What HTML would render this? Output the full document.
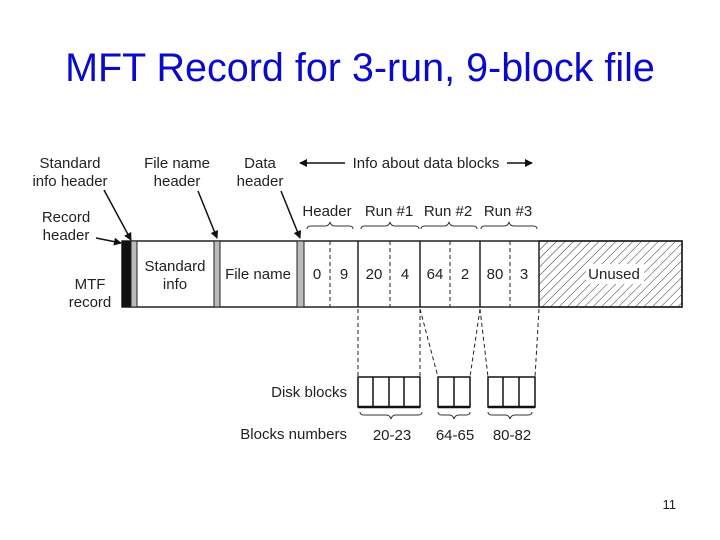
<!DOCTYPE html>
<html><head><meta charset="utf-8"><style>
html,body{margin:0;padding:0;background:#fff;}
svg{display:block;}
text{font-family:"Liberation Sans",Arial,sans-serif;fill:#222;}
</style></head><body>
<svg width="720" height="540" viewBox="0 0 720 540" xmlns="http://www.w3.org/2000/svg">
<defs>
<pattern id="h" width="6" height="6" patternUnits="userSpaceOnUse" patternTransform="rotate(45)">
<line x1="0" y1="0" x2="0" y2="6" stroke="#333" stroke-width="1"/></pattern>
<marker id="a" markerWidth="8" markerHeight="8" refX="7" refY="4" orient="auto" markerUnits="userSpaceOnUse"><path d="M0,0 L8,4 L0,8 z" fill="#111"/></marker>
</defs>
<text x="360" y="81" text-anchor="middle" font-size="39.5" style="fill:#0a0ac8">MFT Record for 3-run, 9-block file</text>

<g font-size="15">
<text x="70" y="168" text-anchor="middle">Standard</text>
<text x="70" y="186" text-anchor="middle">info header</text>
<text x="177" y="168" text-anchor="middle">File name</text>
<text x="177" y="186" text-anchor="middle">header</text>
<text x="260" y="168" text-anchor="middle">Data</text>
<text x="260" y="186" text-anchor="middle">header</text>
<text x="426" y="168" text-anchor="middle">Info about data blocks</text>
<text x="66" y="222" text-anchor="middle">Record</text>
<text x="66" y="240" text-anchor="middle">header</text>
<text x="90" y="289" text-anchor="middle">MTF</text>
<text x="90" y="307" text-anchor="middle">record</text>
<text x="327" y="216" text-anchor="middle">Header</text>
<text x="389" y="216" text-anchor="middle">Run #1</text>
<text x="448" y="216" text-anchor="middle">Run #2</text>
<text x="508" y="216" text-anchor="middle">Run #3</text>
<text x="347" y="397" text-anchor="end">Disk blocks</text>
<text x="347" y="439" text-anchor="end">Blocks numbers</text>
<text x="392" y="440" text-anchor="middle">20-23</text>
<text x="455" y="440" text-anchor="middle">64-65</text>
<text x="512" y="440" text-anchor="middle">80-82</text>
</g>
<g stroke="#111" stroke-width="1.5" fill="none" marker-end="url(#a)">
<line x1="345" y1="163" x2="300" y2="163"/>
<line x1="507" y1="163" x2="532" y2="163"/>
<line x1="104" y1="190" x2="131" y2="240"/>
<line x1="198" y1="191" x2="217" y2="238"/>
<line x1="281" y1="191" x2="300" y2="238"/>
<line x1="96" y1="238" x2="121" y2="243"/>
</g>
<g stroke="#333" stroke-width="1" fill="none">
<path d="M307,229 q0,-3 4,-3 h14 q4,0 5,-4 q1,4 5,4 h14 q4,0 4,3"/>
<path d="M361,229 q0,-3 4,-3 h20 q4,0 5,-4 q1,4 5,4 h20 q4,0 4,3"/>
<path d="M421,229 q0,-3 4,-3 h19 q4,0 5,-4 q1,4 5,4 h19 q4,0 4,3"/>
<path d="M481,229 q0,-3 4,-3 h19 q4,0 5,-4 q1,4 5,4 h19 q4,0 4,3"/>
<path d="M360,412 q0,3 4,3 h22 q4,0 5,4 q1,-4 5,-4 h22 q4,0 4,-3"/>
<path d="M438,412 q0,3 4,3 h7 q4,0 5,4 q1,-4 5,-4 h7 q4,0 4,-3"/>
<path d="M488,412 q0,3 4,3 h13 q4,0 5,4 q1,-4 5,-4 h13 q4,0 4,-3"/>
</g>
<rect x="122" y="241" width="560" height="66" fill="#fff" stroke="#222" stroke-width="1.5"/>
<rect x="539" y="241" width="143" height="66" fill="url(#h)" stroke="#222" stroke-width="1.5"/>
<rect x="586" y="264" width="58" height="20" fill="#fff"/>
<rect x="122" y="241" width="9" height="66" fill="#111"/>
<rect x="131" y="241" width="6" height="66" fill="#bbb" stroke="#222" stroke-width="1"/>
<rect x="214" y="241" width="6" height="66" fill="#bbb" stroke="#222" stroke-width="1"/>
<rect x="297" y="241" width="7" height="66" fill="#bbb" stroke="#222" stroke-width="1"/>
<g stroke="#222" stroke-width="1.5">
<line x1="358" y1="241" x2="358" y2="307"/><line x1="420" y1="241" x2="420" y2="307"/>
<line x1="480" y1="241" x2="480" y2="307"/>
</g>
<g stroke="#222" stroke-width="1" stroke-dasharray="4,3">
<line x1="330" y1="241" x2="330" y2="307"/><line x1="390" y1="241" x2="390" y2="307"/>
<line x1="450" y1="241" x2="450" y2="307"/><line x1="510" y1="241" x2="510" y2="307"/>
<line x1="358" y1="309" x2="358" y2="377"/>
<line x1="420" y1="309" x2="420" y2="377"/>
<line x1="420" y1="309" x2="438" y2="377"/>
<line x1="480" y1="309" x2="470" y2="377"/>
<line x1="480" y1="309" x2="488" y2="377"/>
<line x1="539" y1="309" x2="535" y2="377"/>
</g>
<g font-size="15" text-anchor="middle">
<text x="175" y="271">Standard</text><text x="175" y="289">info</text>
<text x="258" y="279">File name</text>
<text x="317" y="279">0</text><text x="344" y="279">9</text>
<text x="374" y="279">20</text><text x="405" y="279">4</text>
<text x="435" y="279">64</text><text x="465" y="279">2</text>
<text x="495" y="279">80</text><text x="524" y="279">3</text>
<text x="614" y="279">Unused</text>
</g>
<g fill="#fff" stroke="#111" stroke-width="1.5">
<rect x="358" y="377" width="62" height="30"/>
<rect x="438" y="377" width="32" height="30"/>
<rect x="488" y="377" width="47" height="30"/>
</g>
<g stroke="#111" stroke-width="1.5">
<line x1="373" y1="377" x2="373" y2="407"/><line x1="389" y1="377" x2="389" y2="407"/><line x1="404" y1="377" x2="404" y2="407"/>
<line x1="454" y1="377" x2="454" y2="407"/>
<line x1="503" y1="377" x2="503" y2="407"/><line x1="519" y1="377" x2="519" y2="407"/>
<line x1="358" y1="407" x2="420" y2="407" stroke-width="2.5"/>
<line x1="438" y1="407" x2="470" y2="407" stroke-width="2.5"/>
<line x1="488" y1="407" x2="535" y2="407" stroke-width="2.5"/>
</g>
<text x="676" y="509" text-anchor="end" font-size="13">11</text>
</svg>
</body></html>
